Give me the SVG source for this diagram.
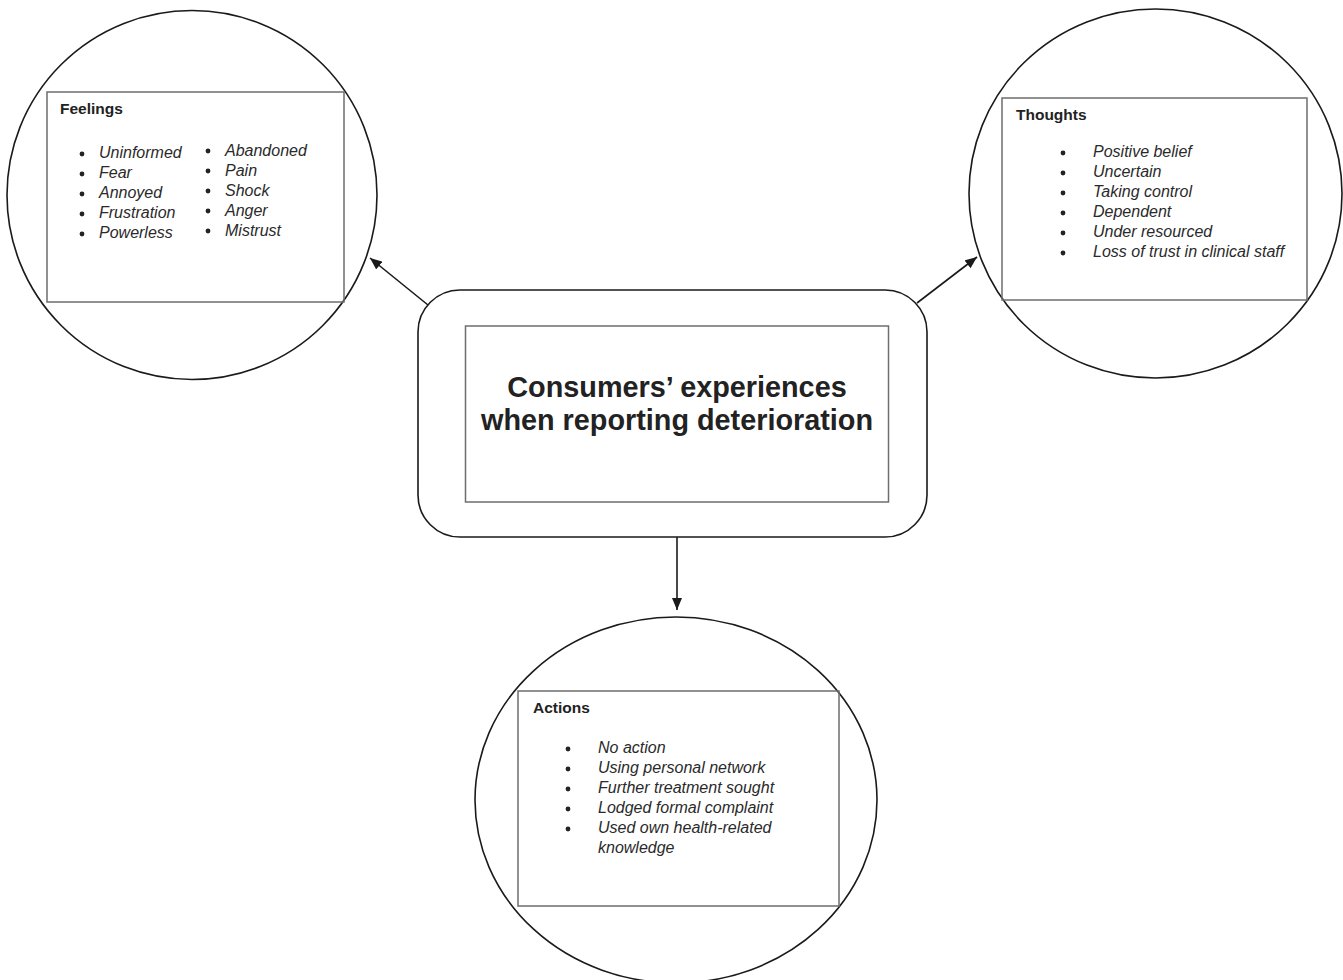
<svg xmlns="http://www.w3.org/2000/svg" width="1343" height="980" viewBox="0 0 1343 980">
<style>
.circ{fill:none;stroke:#1a1a1a;stroke-width:1.6}
.box{fill:none;stroke:#6e6e6e;stroke-width:1.5}
.head{font-family:"Liberation Sans",Arial,sans-serif;font-weight:bold;font-size:15.5px;fill:#222}
.item{font-family:"Liberation Sans",Arial,sans-serif;font-style:italic;font-size:16px;fill:#2a2a2a}
.title{font-family:"Liberation Sans",Arial,sans-serif;font-weight:bold;font-size:28.8px;fill:#222;text-anchor:middle}
.dot{fill:#222}
.conn{stroke:#1a1a1a;stroke-width:1.6;fill:none}
</style>
<defs>
<marker id="arr" markerUnits="userSpaceOnUse" markerWidth="13" markerHeight="10" refX="12" refY="5" orient="auto">
<path d="M0,0 L12,5 L0,10 z" fill="#1a1a1a"/>
</marker>
</defs>
<rect width="1343" height="980" fill="#ffffff"/>
<g id="connectors">
<line class="conn" x1="428" y1="305" x2="370" y2="258" marker-end="url(#arr)"/>
<line class="conn" x1="917" y1="303" x2="977" y2="257" marker-end="url(#arr)"/>
<line class="conn" x1="677" y1="537" x2="677" y2="610" marker-end="url(#arr)"/>
</g>
<g id="center">
<rect x="418" y="290" width="509" height="247" rx="42" ry="42" fill="#fff" stroke="#1a1a1a" stroke-width="1.6"/>
<rect class="box" x="465.5" y="326" width="423" height="176"/>
<text class="title" x="677" y="397">Consumers’ experiences</text>
<text class="title" x="677" y="430">when reporting deterioration</text>
</g>
<g id="feelings">
<ellipse class="circ" cx="192" cy="195" rx="185" ry="184.5"/>
<rect class="box" x="47" y="92" width="297" height="210"/>
<text class="head" x="60" y="114">Feelings</text>
<circle class="dot" cx="82" cy="154" r="2.4"/>
<circle class="dot" cx="82" cy="174" r="2.4"/>
<circle class="dot" cx="82" cy="194" r="2.4"/>
<circle class="dot" cx="82" cy="214" r="2.4"/>
<circle class="dot" cx="82" cy="234" r="2.4"/>
<text class="item" x="99" y="158">Uninformed</text>
<text class="item" x="99" y="178">Fear</text>
<text class="item" x="99" y="198">Annoyed</text>
<text class="item" x="99" y="218">Frustration</text>
<text class="item" x="99" y="238">Powerless</text>
<circle class="dot" cx="208" cy="151" r="2.4"/>
<circle class="dot" cx="208" cy="171" r="2.4"/>
<circle class="dot" cx="208" cy="191" r="2.4"/>
<circle class="dot" cx="208" cy="211" r="2.4"/>
<circle class="dot" cx="208" cy="231" r="2.4"/>
<text class="item" x="225" y="156">Abandoned</text>
<text class="item" x="225" y="176">Pain</text>
<text class="item" x="225" y="196">Shock</text>
<text class="item" x="225" y="216">Anger</text>
<text class="item" x="225" y="236">Mistrust</text>
</g>
<g id="thoughts">
<ellipse class="circ" cx="1155.5" cy="193.5" rx="186.5" ry="184.5"/>
<rect class="box" x="1002" y="98" width="305" height="202"/>
<text class="head" x="1016" y="120">Thoughts</text>
<circle class="dot" cx="1063" cy="153" r="2.4"/>
<circle class="dot" cx="1063" cy="173" r="2.4"/>
<circle class="dot" cx="1063" cy="193" r="2.4"/>
<circle class="dot" cx="1063" cy="213" r="2.4"/>
<circle class="dot" cx="1063" cy="233" r="2.4"/>
<circle class="dot" cx="1063" cy="253" r="2.4"/>
<text class="item" x="1093" y="157">Positive belief</text>
<text class="item" x="1093" y="177">Uncertain</text>
<text class="item" x="1093" y="197">Taking control</text>
<text class="item" x="1093" y="217">Dependent</text>
<text class="item" x="1093" y="237">Under resourced</text>
<text class="item" x="1093" y="257">Loss of trust in clinical staff</text>
</g>
<g id="actions">
<ellipse class="circ" cx="676" cy="800" rx="201" ry="183"/>
<rect class="box" x="518" y="691" width="321" height="215"/>
<text class="head" x="533" y="713">Actions</text>
<circle class="dot" cx="568" cy="749" r="2.4"/>
<circle class="dot" cx="568" cy="769" r="2.4"/>
<circle class="dot" cx="568" cy="789" r="2.4"/>
<circle class="dot" cx="568" cy="809" r="2.4"/>
<circle class="dot" cx="568" cy="829" r="2.4"/>
<text class="item" x="598" y="753">No action</text>
<text class="item" x="598" y="773">Using personal network</text>
<text class="item" x="598" y="793">Further treatment sought</text>
<text class="item" x="598" y="813">Lodged formal complaint</text>
<text class="item" x="598" y="833">Used own health-related</text>
<text class="item" x="598" y="853">knowledge</text>
</g>
</svg>
